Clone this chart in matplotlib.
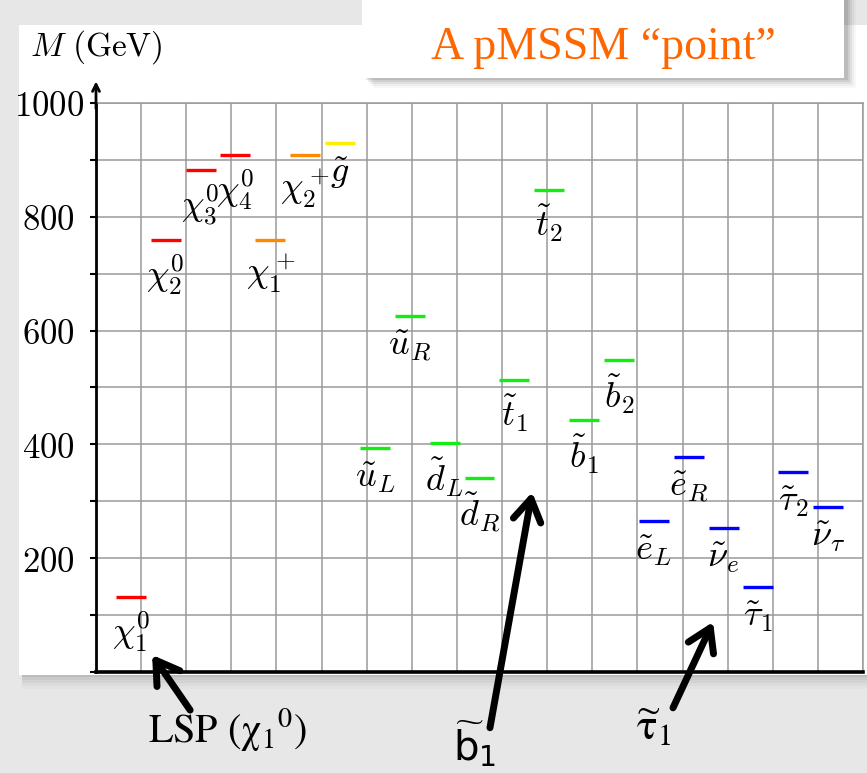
import numpy as np
import matplotlib
matplotlib.use("Agg")
import matplotlib.pyplot as plt
from matplotlib.patches import Rectangle

plt.rcParams['mathtext.fontset'] = 'cm'

# ---- data ----
labels = [r'$\chi_1^0$', r'$\chi_2^0$', r'$\chi_3^0$', r'$\chi_4^0$', r'$\chi_1^+$',
          r'$\chi_2^+$', r'$\tilde{g}$', r'$\tilde{u}_L$', r'$\tilde{u}_R$',
          r'$\tilde{d}_L$', r'$\tilde{d}_R$', r'$\tilde{t}_1$', r'$\tilde{t}_2$',
          r'$\tilde{b}_1$', r'$\tilde{b}_2$', r'$\tilde{e}_L$', r'$\tilde{e}_R$',
          r'$\tilde{\nu}_e$', r'$\tilde{\tau}_1$', r'$\tilde{\tau}_2$', r'$\tilde{\nu}_\tau$']
masses = [132, 759, 882, 908, 759, 908, 930, 393, 626, 402, 341, 513, 847,
          443, 548, 265, 378, 253, 149, 352, 290]
groups = ['neutralino'] * 4 + ['chargino'] * 2 + ['gluino'] + ['squark'] * 8 + ['slepton'] * 6
group_colors = {'neutralino': '#ff0000', 'chargino': '#ff8800', 'gluino': '#ffee00',
                'squark': '#11ee11', 'slepton': '#0000ff'}
ytick_values = list(range(0, 1001, 100))
ytick_labels = [f'${v}$' if (v % 200 == 0 and v > 0) else '' for v in ytick_values]
n_columns = 17

W, H = 867, 773
fig = plt.figure(figsize=(W / 100, H / 100), dpi=100)
fig.patch.set_facecolor('#e7e7e7')

def fx(px):
    return px / W

def fy(py):
    return 1 - py / H

# white panel with soft bottom shadow
for i, a in enumerate([0.10, 0.08, 0.06, 0.04, 0.03]):
    fig.add_artist(Rectangle((fx(22), fy(677 + 3 * i)), fx(845), (677 + 3 * i - 30) / H,
                             transform=fig.transFigure, facecolor='#555555', alpha=a,
                             edgecolor='none', zorder=0))
fig.add_artist(Rectangle((fx(19), fy(675)), fx(848), (675 - 25) / H,
                         transform=fig.transFigure, facecolor='white',
                         edgecolor='none', zorder=0.5))

# title box with shadow
for i, a in enumerate([0.12, 0.09, 0.07, 0.05, 0.03]):
    d = 2 + 2 * i
    fig.add_artist(Rectangle((fx(364 + d), fy(78 + d)), (844 - 362) / W, (78 + d) / H,
                             transform=fig.transFigure, facecolor='#333333', alpha=a,
                             edgecolor='none', zorder=0.6))
fig.add_artist(Rectangle((fx(362), fy(78)), (844 - 362) / W, 78 / H,
                         transform=fig.transFigure, facecolor='white',
                         edgecolor='none', zorder=0.7))
fig.text(fx(603), fy(59), 'A pMSSM \u201cpoint\u201d', color='#ff6600',
         fontsize=33, family='Liberation Serif', ha='center', va='baseline', zorder=1)

# axis label
fig.text(fx(30), fy(47), r'$M\ (\mathrm{GeV})$', fontsize=24, ha='left', va='center', zorder=1)

ax = fig.add_axes([fx(96), fy(672), (863 - 96) / W, (672 - 103) / H])
ax.set_facecolor('none')
ax.set_zorder(2)
n = len(masses)
xs = np.arange(1, n + 1)
ax.set_xlim(0, n + 1)
ax.set_ylim(0, 1000)

ax.set_xticks(np.arange(n_columns + 1) * (n + 1) / n_columns)
ax.set_xticklabels([])
ax.tick_params(axis='x', length=0)
ax.set_yticks(ytick_values)
ax.set_yticklabels(ytick_labels, fontsize=25)
ax.tick_params(axis='y', direction='out', length=4, width=1.5, pad=30)
for t in ax.get_yticklabels():
    t.set_horizontalalignment('center')
ax.grid(True, color='#9a9a9a', lw=1.1)
ax.set_axisbelow(True)
ax.spines['left'].set_linewidth(2)
ax.spines['bottom'].set_linewidth(2.6)
for s in ('top', 'right'):
    ax.spines[s].set_color('#9a9a9a')
    ax.spines[s].set_linewidth(1.1)

# y-axis arrow
ax.annotate('', xy=(0, 1038), xytext=(0, 990),
            arrowprops=dict(arrowstyle='->,head_length=0.5,head_width=0.25', lw=2,
                            color='black', shrinkA=0, shrinkB=0),
            annotation_clip=False)

colors = [group_colors[g] for g in groups]
ax.hlines(masses, xs - 0.43, xs + 0.43, colors=colors, lw=2.4, zorder=3)
for x, m, lab in zip(xs, masses, labels):
    ax.annotate(lab, (x, m), xytext=(0, -9), textcoords='offset points',
                ha='center', va='top', fontsize=26, zorder=4)

# bottom annotations with arrows
arrow_kw = dict(arrowstyle='->,head_length=0.8,head_width=0.5', lw=5, color='black',
                shrinkA=0, shrinkB=0, mutation_scale=20)
ax.annotate('', xy=(1.61, 30), xytext=(2.70, -67), arrowprops=arrow_kw,
            annotation_clip=False)
ax.annotate('', xy=(12.51, 316), xytext=(11.30, -98), arrowprops=arrow_kw,
            annotation_clip=False)
ax.annotate('', xy=(17.70, 88), xytext=(16.55, -63), arrowprops=arrow_kw,
            annotation_clip=False)

ax.text(3.78, -125, r'$\mathrm{LSP\ (\chi_1{}^0)}$', math_fontfamily='stix',
        fontsize=29, ha='center', va='baseline', clip_on=False)
ax.text(10.87, -155, r'$\widetilde{\mathrm{b}}_{1}$', math_fontfamily='dejavusans',
        fontsize=29, ha='center', va='baseline', clip_on=False)
ax.text(16.0, -120, r'$\widetilde{\mathrm{\tau}}_{1}$', math_fontfamily='stix',
        fontsize=31, ha='center', va='baseline', clip_on=False)

fig.savefig('out.png', dpi=100, facecolor=fig.get_facecolor())
